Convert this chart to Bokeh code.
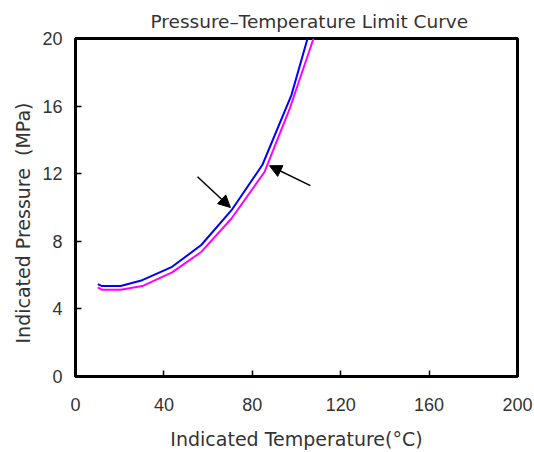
from bokeh.plotting import figure
from bokeh.models import Range1d, FixedTicker, Arrow, NormalHead, Title
from bokeh.embed import file_html
from bokeh.resources import INLINE

# Data
temp_blue = [10.1, 12.0, 20.4, 30.2, 43.7, 56.9, 70.6, 84.6, 97.7, 105.0]
pres_blue = [5.47, 5.35, 5.35, 5.70, 6.49, 7.78, 9.84, 12.53, 16.65, 20.0]
temp_mag = [10.1, 12.0, 20.4, 30.2, 43.7, 56.9, 70.6, 85.5, 96.8, 107.7]
pres_mag = [5.27, 5.13, 5.13, 5.35, 6.16, 7.37, 9.35, 12.10, 15.80, 20.0]
x_ticks = [0, 40, 80, 120, 160, 200]
y_ticks = [0, 4, 8, 12, 16, 20]
# Annotation arrows (data coordinates): start x, start y, end x, end y
arrow1 = (55.2, 11.82, 70.1, 10.0)
arrow2 = (106.3, 11.29, 87.8, 12.47)

p = figure(width=534, height=452, output_backend="svg", toolbar_location=None,
           x_range=Range1d(0, 200), y_range=Range1d(0, 20),
           min_border_left=75, min_border_right=17, min_border_top=38, min_border_bottom=74)
p.title = None
t = Title(text="Pressure\u2013Temperature Limit Curve", align="left", offset=75,
          text_font="DejaVu Sans", text_font_size="18.5px", text_font_style="normal",
          text_color="#333333", standoff=14)
p.add_layout(t, "above")

ylab = Title(text="Indicated Pressure\u00a0\u00a0(MPa)", align="left", offset=33,
             text_font="DejaVu Sans", text_font_size="19px", text_font_style="normal",
             text_color="#333333", standoff=12)
p.add_layout(ylab, "left")

p.line(temp_blue, pres_blue, line_color="#0000FF", line_width=2)
p.line(temp_mag, pres_mag, line_color="#FF00FF", line_width=2)

for a in (arrow1, arrow2):
    p.add_layout(Arrow(x_start=a[0], y_start=a[1], x_end=a[2], y_end=a[3],
                       line_color="black", line_width=1.5,
                       end=NormalHead(size=12, fill_color="black", line_color="black")))

p.grid.visible = False
p.outline_line_color = "black"
p.outline_line_width = 3
p.background_fill_color = "white"
p.border_fill_color = "white"

for ax in (p.xaxis[0], p.yaxis[0]):
    ax.axis_line_color = None
    ax.major_tick_in = 6
    ax.major_tick_out = 0
    ax.major_tick_line_color = "black"
    ax.major_tick_line_width = 1.5
    ax.minor_tick_line_color = None
    ax.major_label_text_font = "Liberation Sans"
    ax.major_label_text_font_size = "18px"
    ax.major_label_text_color = "#333333"
    ax.axis_label_text_font = "DejaVu Sans"
    ax.axis_label_text_font_style = "normal"
    ax.axis_label_text_color = "#333333"

p.xaxis.axis_label_text_font_size = "19px"
p.xaxis.ticker = FixedTicker(ticks=x_ticks)
p.yaxis.ticker = FixedTicker(ticks=y_ticks)
p.xaxis.axis_label = "Indicated Temperature(\u00b0C)"
p.xaxis.major_label_standoff = 21
p.yaxis.major_label_standoff = 13
p.xaxis.axis_label_standoff = 14

open("out.html", "w").write(file_html(p, INLINE))
